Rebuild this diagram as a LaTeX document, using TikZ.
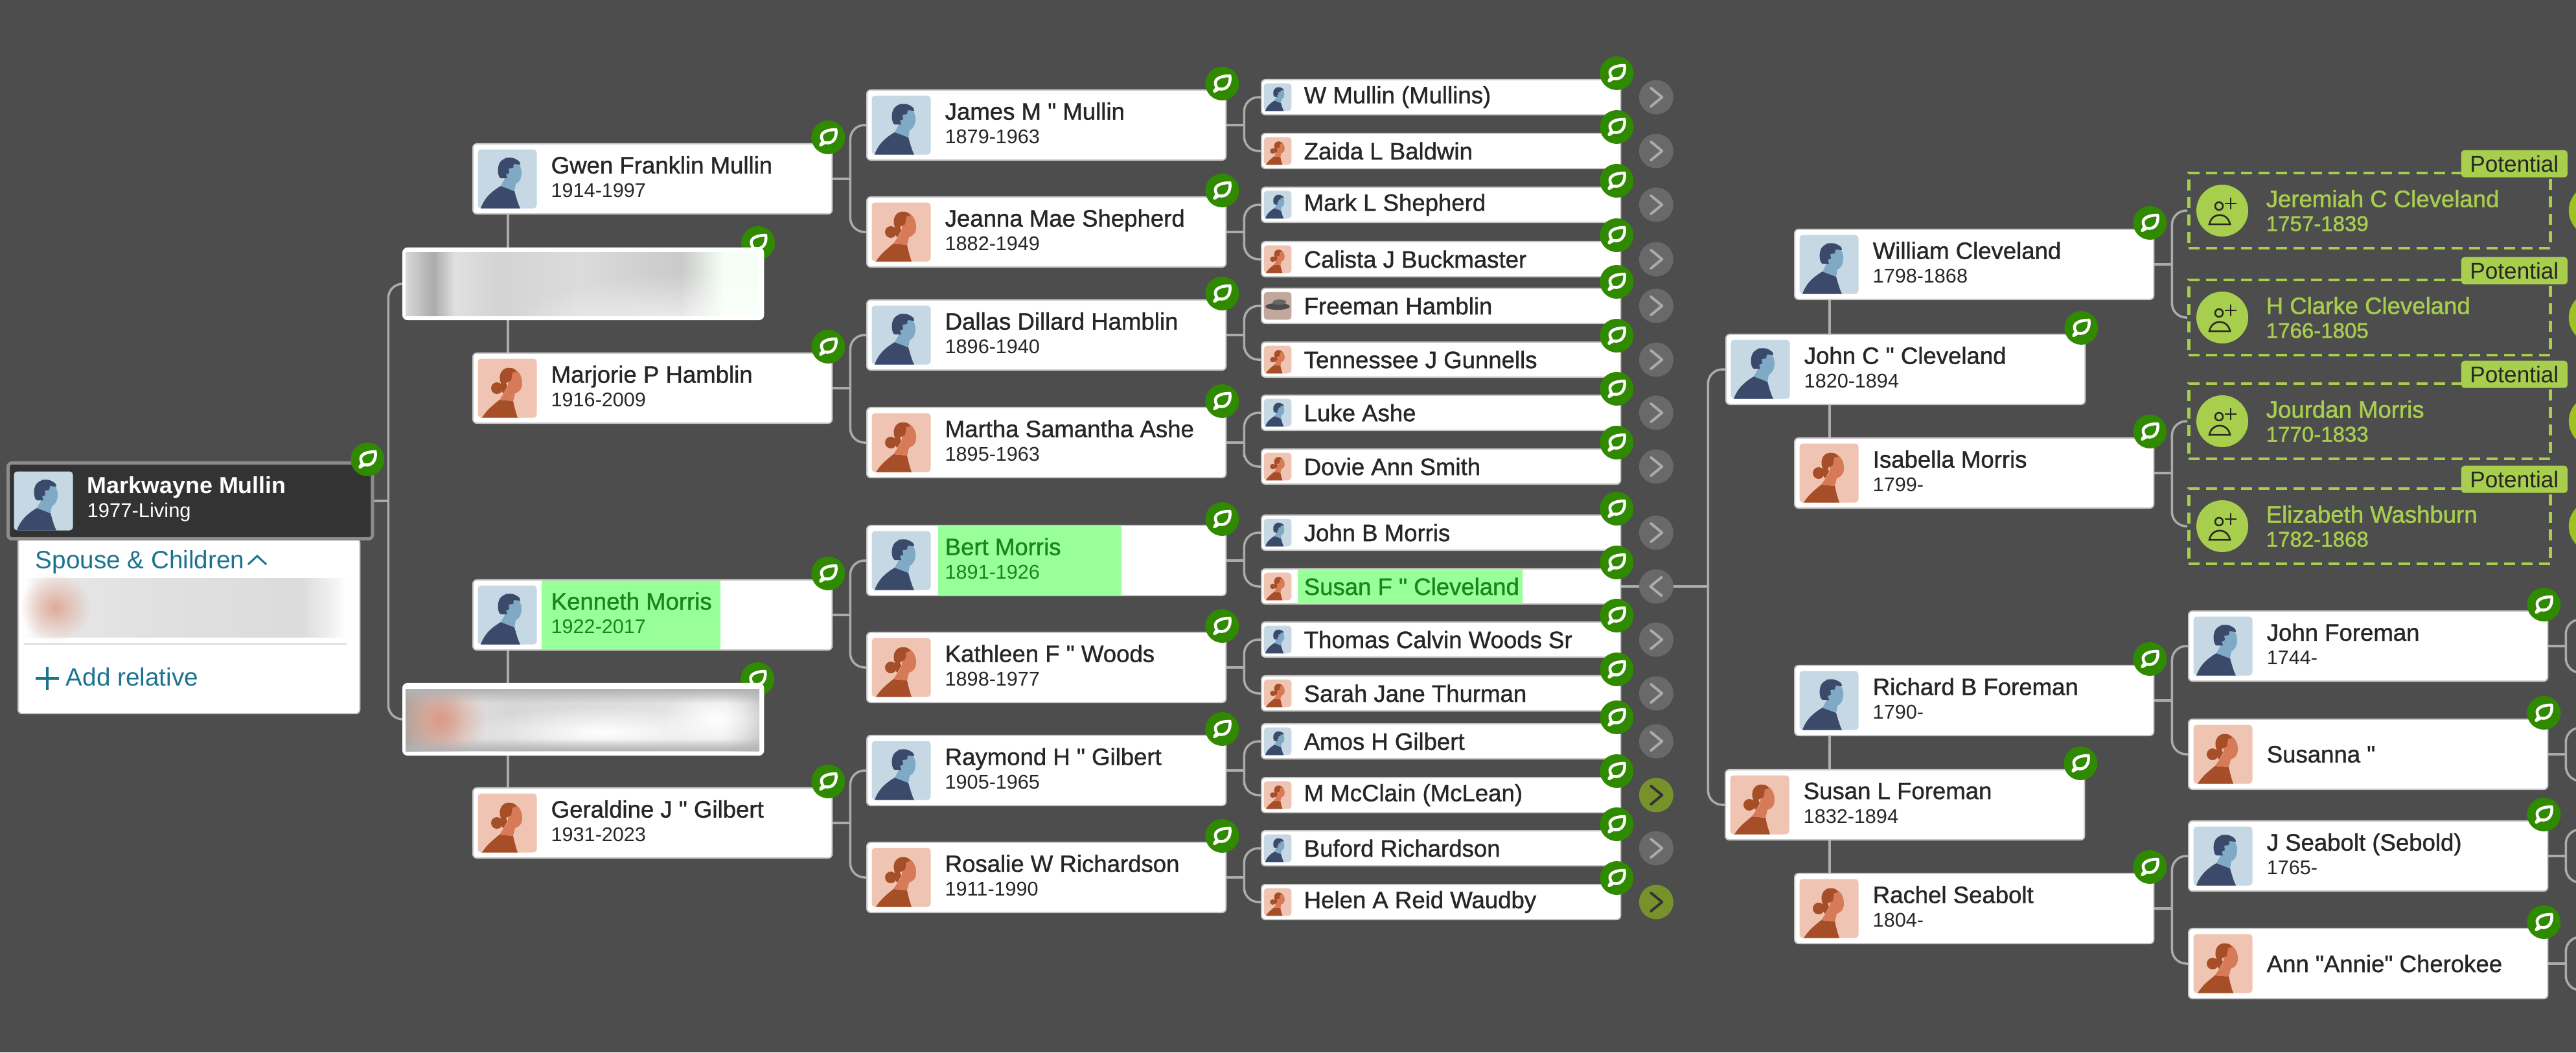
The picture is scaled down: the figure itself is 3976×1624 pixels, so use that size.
\documentclass[tikz,border=0pt]{standalone}
\usepackage{fontspec}
\setmainfont{Liberation Sans}
\newfontfamily\namefont[FakeBold=1.1]{Liberation Sans}
\newfontfamily\potfont[FakeBold=1.3]{Liberation Sans}
\newfontfamily\selffont{Liberation Sans Bold}
\usetikzlibrary{backgrounds,fadings}

\definecolor{pagebg}{HTML}{4D4D4D}
\definecolor{linkgrey}{HTML}{ABABAB}
\definecolor{leafgreen}{HTML}{2F8A00}
\definecolor{potgreen}{HTML}{A8CE4E}
\definecolor{potround}{HTML}{9FC121}
\definecolor{hilite}{HTML}{99FF99}
\definecolor{hitext}{HTML}{1A851A}
\definecolor{inktext}{HTML}{262626}
\definecolor{teal}{HTML}{1C7391}
\definecolor{btngrey}{HTML}{696969}
\definecolor{btnolive}{HTML}{78922B}
\definecolor{blurpeach}{HTML}{DC9A85}
\definecolor{manbg}{HTML}{C5D8E4}
\definecolor{manbody}{HTML}{3B4A6B}
\definecolor{manface}{HTML}{7FA9C4}
\definecolor{womanbg}{HTML}{F0C4B2}
\definecolor{womanbody}{HTML}{A54E28}
\definecolor{womanface}{HTML}{D77A58}

\pgfdeclarehorizontalshading{blurone}{100bp}{color(0bp)=(black!15); color(25bp)=(black!15); color(29bp)=(black!33); color(32bp)=(black!12); color(38bp)=(black!17); color(50bp)=(black!14); color(64bp)=(black!21); color(70bp)=(green!4!white); color(75bp)=(green!4!white); color(100bp)=(white)}
\pgfdeclarehorizontalshading{blurtwo}{100bp}{color(0bp)=(black!35); color(25bp)=(black!35); color(29bp)=(black!22); color(33bp)=(black!12); color(40bp)=(black!16); color(55bp)=(black!13); color(70bp)=(black!10); color(75bp)=(black!22); color(100bp)=(black!25)}
\pgfdeclarehorizontalshading{blurthree}{100bp}{color(0bp)=(white); color(25bp)=(white); color(27bp)=(black!5); color(33bp)=(black!10); color(45bp)=(black!12); color(68bp)=(black!14); color(73bp)=(black!5); color(75bp)=(white); color(100bp)=(white)}
\tikzfading[name=softblob, inner color=transparent!0, outer color=transparent!100]

\tikzset{
	link/.style={draw=linkgrey, line width=0.035cm},
	forked/.style={link, rounded corners=0.22cm},
	card/.style={draw=black!22, line width=0.02cm, fill=white, rounded corners=0.06cm, inner sep=0, anchor=west},
	bigcard/.style={card, minimum width=5.54cm, minimum height=1.08cm},
	smallcard/.style={card, minimum width=5.54cm, minimum height=0.54cm},
	nametext/.style={anchor=west, inner sep=0, align=left, text=inktext, font=\namefont\fontsize{10.4}{10.5}\selectfont},
	hitextnode/.style={nametext, text=hitext},
	hibox/.style={fill=hilite, inner sep=0, anchor=west},
	morebtn/.style={circle, fill=btngrey, minimum size=0.53cm, inner sep=0},
	richbtn/.style={circle, fill=btnolive, minimum size=0.53cm, inner sep=0},
	chev/.style={draw=linkgrey, line width=0.04cm, line cap=round, line join=round},
	potbox/.style={draw=potgreen, dash pattern=on 0.17cm off 0.1cm, line width=0.045cm, minimum width=5.58cm, minimum height=1.16cm, inner sep=0, anchor=west},
	pottag/.style={fill=potgreen, rounded corners=0.05cm, minimum width=1.64cm, minimum height=0.42cm, inner sep=0, text=black!85, font=\fontsize{10}{10}\selectfont},
	pottext/.style={anchor=west, inner sep=0, align=left, text=potgreen, font=\potfont\fontsize{10.4}{10.5}\selectfont},
	fuzzy/.style={path fading=softblob},
	man/.pic={
		\fill[manbg, rounded corners=0.05cm] (-45.5,-45.5) rectangle (45.5,45.5);
		\fill[manbody] (-41,45.5) .. controls (-35,28) and (-22,18) .. (-10,11) -- (11,19) .. controls (14,30) and (17,40) .. (20,45.5) -- cycle;
		\fill[manface] (-4,-33) .. controls (12,-33) and (22,-22) .. (22,-10) .. controls (22,0) and (18,6) .. (13,8) -- (11,19) -- (-10,11) -- (-4,0) -- cycle;
		\fill[manbody] (-10,-1) .. controls (-14,-2) and (-16,-14) .. (-13,-22) .. controls (-10,-32) and (5,-36) .. (14,-30) .. controls (20,-27) and (20,-24) .. (20,-22) -- (10,-23) -- (9,-17) -- (2,-16) -- (3,-9) -- (-2,-7) -- (0,-1) -- cycle;
	},
	woman/.pic={
		\fill[womanbg, rounded corners=0.05cm] (-45.5,-45.5) rectangle (45.5,45.5);
		\fill[womanbody] (-39,45.5) .. controls (-32,34) and (-22,26) .. (-12,18) -- (9,20) .. controls (11,30) and (14,40) .. (16,45.5) -- cycle;
		\fill[womanface] (5,-31) .. controls (16,-30) and (23,-20) .. (23,-8) .. controls (23,2) and (18,6) .. (12,8) -- (9,20) -- (-12,18) -- (0,0) -- cycle;
		\fill[womanbody] (-16,0) circle (9);
		\fill[womanbody] (6,-31) .. controls (-8,-34) and (-15,-20) .. (-10,-8) .. controls (-10,0) and (-8,8) .. (-6,8) -- (0,-2) -- (-2,-8) -- (6,-12) -- (8,-24) -- (14,-25) .. controls (12,-29) and (9,-31) .. (6,-31) -- cycle;
	},
	photo/.pic={
		\fill[blurpeach!70!black!60!white, rounded corners=0.05cm] (-45.5,-45.5) rectangle (45.5,45.5);
		\fill[black!70] (0,2) ellipse (40 and 11);
		\fill[black!60] (6,-12) ellipse (22 and 9);
	},
	leaf/.pic={
		\fill[leafgreen] (0,0) circle (26);
		\draw[white, line width=0.045cm, line join=round] (-12,12) -- (-8,6) .. controls (-16,-6) and (-4,-12) .. (12,-12) .. controls (14,2) and (6,11) .. (-5,8) -- cycle;
	},
	addperson/.pic={
		\draw[black!85, line width=0.025cm] (-5,-7) circle (6);
		\draw[black!85, line width=0.025cm] (-20,21) .. controls (-16,2) and (8,2) .. (12,21) -- cycle;
		\draw[black!85, line width=0.025cm] (4,-11) -- (22,-11) (13,-20) -- (13,-2);
	}
}

\begin{document}
\begin{tikzpicture}[x=0.01cm, y=-0.01cm]
	\useasboundingbox (0,0) rectangle (3976,1624);
	\clip (0,0) rectangle (3976,1624);

	% the person in the root position, and the panel under the card
	\node[card, minimum width=5.27cm, minimum height=2.7cm, anchor=north west] (panel) at (27,830) {};
	\node[inner sep=0, minimum width=4.97cm, minimum height=0.9cm, shading=blurthree] (panelblur) at (286,938) {};
	\fill[blurpeach, opacity=0.8, fuzzy] (30,885) rectangle (140,990);
	\draw[black!12, line width=0.03cm] ([shift={(0,55)}]panelblur.west) -- ([shift={(0,55)}]panelblur.east);
	\node[anchor=west, inner sep=0, text=teal, font=\fontsize{11}{11}\selectfont] (spouses) at (54,867) {Spouse \& Children};
	\draw[teal, line width=0.03cm] ([shift={(5,4)}]spouses.east) -- ++(14,-13) -- ++(14,13);
	\node[anchor=west, inner sep=0, text=teal, font=\fontsize{11}{11}\selectfont] (addrel) at (101,1045) {Add relative};
	\draw[teal, line width=0.035cm] ([shift={(-46,2)}]addrel.west) -- ([shift={(-10,2)}]addrel.west) ([shift={(-28,-16)}]addrel.west) -- ([shift={(-28,20)}]addrel.west);
	\node[card, fill=black!80, draw=black!45, line width=0.05cm, minimum width=5.62cm, minimum height=1.17cm] (mark) at (10,773) {};
	\pic at ([shift={(57,0)}]mark.west) {man};
	\node[anchor=west, inner sep=0, align=left, text=white, font=\selffont\fontsize{10.2}{10.5}\selectfont] (markt) at ([shift={(124,-3)}]mark.west) {Markwayne Mullin\\{\fontspec{Liberation Sans}\fontsize{8.8}{10.5}\selectfont 1977-Living}};
	\pic at ([shift={(-10,-3)}]mark.north east) {leaf};

	% spouse rows are blurred out
	\pic at (1170,375) {leaf};
	\node[bigcard, draw=white, line width=0.04cm] (spouseone) at (621,438) {};
	\shade[shading=blurone] (626,389) rectangle (1171,487);
	\begin{scope}
		\clip (626,389) rectangle (1171,487);
		\fill[white, fuzzy] (760,420) rectangle (1400,640);
	\end{scope}
	\pic at (1169,1048) {leaf};
	\node[bigcard, draw=white, line width=0.04cm] (spousetwo) at (621,1110) {};
	\shade[shading=blurtwo] (626,1063) rectangle (1172,1159);
	\begin{scope}
		\clip (626,1063) rectangle (1172,1159);
		\fill[blurpeach, fuzzy] (610,1040) rectangle (750,1180);
		\fill[white, fuzzy] (1020,1060) rectangle (1190,1160);
		\fill[white, fuzzy] (720,1090) rectangle (1140,1170);
	\end{scope}
	\fill[black!30, path fading=south] (626,1063) rectangle (1172,1085);
	\fill[black!30, path fading=north] (626,1140) rectangle (1172,1159);

	% cards with a name and a life span
	\foreach \id/\xx/\yy/\kind/\name/\dates in {
		gwen/729/276/man/Gwen Franklin Mullin/1914-1997,
		marjorie/729/599/woman/Marjorie P Hamblin/1916-2009,
		geraldine/729/1270/woman/Geraldine J " Gilbert/1931-2023,
		james/1337/193/man/James M " Mullin/1879-1963,
		jeanna/1337/358/woman/Jeanna Mae Shepherd/1882-1949,
		dallas/1337/517/man/Dallas Dillard Hamblin/1896-1940,
		martha/1337/683/woman/Martha Samantha Ashe/1895-1963,
		kathleen/1337/1030/woman/Kathleen F " Woods/1898-1977,
		raymond/1337/1189/man/Raymond H " Gilbert/1905-1965,
		rosalie/1337/1354/woman/Rosalie W Richardson/1911-1990,
		william/2769/408/man/William Cleveland/1798-1868,
		johnc/2663/570/man/John C " Cleveland/1820-1894,
		isabella/2769/730/woman/Isabella Morris/1799-,
		richard/2769/1081/man/Richard B Foreman/1790-,
		susanl/2662/1242/woman/Susan L Foreman/1832-1894,
		rachel/2769/1402/woman/Rachel Seabolt/1804-,
		johnf/3377/997/man/John Foreman/1744-,
		seabolt/3377/1321/man/J Seabolt (Sebold)/1765-%
	}{
		\node[bigcard] (\id) at (\xx,\yy) {};
		\pic at ([shift={(54,0)}]\id.west) {\kind};
		\node[nametext] (\id t) at ([shift={(121,-3)}]\id.west) {\name\\{\fontsize{8.7}{10.5}\fontspec{Liberation Sans}\dates}};
	}

	% the two matches are marked in green
	\node[bigcard] (kenneth) at (729,949) {};
	\pic at ([shift={(54,0)}]kenneth.west) {man};
	\node[hibox, minimum width=2.76cm, minimum height=1.06cm] (kennethh) at ([shift={(106,0)}]kenneth.west) {};
	\node[hitextnode] (kennetht) at ([shift={(121,-3)}]kenneth.west) {Kenneth Morris\\{\fontsize{8.7}{10.5}\fontspec{Liberation Sans}1922-2017}};
	\node[bigcard] (bert) at (1337,865) {};
	\pic at ([shift={(54,0)}]bert.west) {man};
	\node[hibox, minimum width=2.83cm, minimum height=1.06cm] (berth) at ([shift={(110,0)}]bert.west) {};
	\node[hitextnode] (bertt) at ([shift={(121,-3)}]bert.west) {Bert Morris\\{\fontsize{8.7}{10.5}\fontspec{Liberation Sans}1891-1926}};

	% only a name on these
	\foreach \id/\yy/\kind/\name in {susanna/1164/woman/Susanna ", ann/1487/woman/Ann "Annie" Cherokee}{
		\node[bigcard] (\id) at (3377,\yy) {};
		\pic at ([shift={(54,0)}]\id.west) {\kind};
		\node[nametext] (\id t) at ([shift={(121,0)}]\id.west) {\name};
	}

	% the narrow cards
	\foreach \id/\yy/\kind/\name in {
		wmullin/150/man/W Mullin (Mullins),
		zaida/233/woman/Zaida L Baldwin,
		markl/316/man/Mark L Shepherd,
		calista/400/woman/Calista J Buckmaster,
		freeman/472/photo/Freeman Hamblin,
		tennessee/555/woman/Tennessee J Gunnells,
		luke/637/man/Luke Ashe,
		dovie/720/woman/Dovie Ann Smith,
		johnb/822/man/John B Morris,
		thomas/987/man/Thomas Calvin Woods Sr,
		sarah/1070/woman/Sarah Jane Thurman,
		amos/1144/man/Amos H Gilbert,
		mcclain/1227/woman/M McClain (McLean),
		buford/1309/man/Buford Richardson,
		helen/1392/woman/Helen A Reid Waudby%
	}{
		\node[smallcard] (\id) at (1946,\yy) {};
		\pic[scale=0.47] at ([shift={(26,0)}]\id.west) {\kind};
		\node[nametext] (\id t) at ([shift={(66,0)}]\id.west) {\name};
	}
	\node[smallcard] (susanf) at (1946,905) {};
	\pic[scale=0.47] at ([shift={(26,0)}]susanf.west) {woman};
	\node[hibox, minimum width=3.47cm, minimum height=0.53cm] (susanfh) at ([shift={(56,0)}]susanf.west) {};
	\node[hitextnode] (susanft) at ([shift={(66,0)}]susanf.west) {Susan F " Cleveland};

	% buttons that open the next generation
	\foreach \id in {wmullin, zaida, markl, calista, freeman, tennessee, luke, dovie, johnb, thomas, sarah, amos, buford}{
		\node[morebtn] (\id c) at ([shift={(54,0)}]\id.east) {};
		\draw[chev] ([shift={(-8,-14)}]\id c.center) -- ([shift={(9,0)}]\id c.center) -- ([shift={(-8,14)}]\id c.center);
	}
	\foreach \id in {mcclain, helen}{
		\node[richbtn] (\id c) at ([shift={(54,0)}]\id.east) {};
		\draw[chev, draw=black!80] ([shift={(-8,-14)}]\id c.center) -- ([shift={(9,0)}]\id c.center) -- ([shift={(-8,14)}]\id c.center);
	}
	\node[morebtn] (susanfc) at ([shift={(54,0)}]susanf.east) {};
	\draw[chev] ([shift={(8,-14)}]susanfc.center) -- ([shift={(-9,0)}]susanfc.center) -- ([shift={(8,14)}]susanfc.center);

	% hints
	\foreach \id/\yy/\name/\dates in {
		jeremiah/325/Jeremiah C Cleveland/1757-1839,
		clarke/490/H Clarke Cleveland/1766-1805,
		jourdan/650/Jourdan Morris/1770-1833,
		elizabeth/812/Elizabeth Washburn/1782-1868%
	}{
		\node[potbox] (\id) at (3376,\yy) {};
		\node[pottag] (\id g) at ([shift={(-58,-12)}]\id.north east) {Potential};
		\node[circle, fill=potgreen, minimum size=0.8cm, inner sep=0] (\id c) at ([shift={(54,0)}]\id.west) {};
		\pic at (\id c) {addperson};
		\node[pottext] (\id t) at ([shift={(121,0)}]\id.west) {\name\\{\fontsize{9.4}{10.5}\selectfont\dates}};
		\node[circle, fill=potround, minimum size=0.8cm, inner sep=0] (\id r) at ([shift={(66,0)}]\id.east) {};
	}

	% leaves on every named card
	\foreach \id in {gwen, marjorie, kenneth, geraldine, james, jeanna, dallas, martha, bert, kathleen, raymond, rosalie, wmullin, zaida, markl, calista, freeman, tennessee, luke, dovie, johnb, susanf, thomas, sarah, amos, mcclain, buford, helen, william, johnc, isabella, richard, susanl, rachel, johnf, susanna, seabolt, ann}{
		\pic at ([shift={(-7,-9)}]\id.north east) {leaf};
	}

	% background, then the lines behind the cards
	\begin{scope}[on background layer]
		\clip (0,0) rectangle (3976,1624);
		\fill[pagebg] (0,0) rectangle (3976,1624);
		\foreach \aa/\bb/\cc in {gwen/james/jeanna, marjorie/dallas/martha, kenneth/bert/kathleen, geraldine/raymond/rosalie, james/wmullin/zaida, jeanna/markl/calista, dallas/freeman/tennessee, martha/luke/dovie, bert/johnb/susanf, kathleen/thomas/sarah, raymond/amos/mcclain, rosalie/buford/helen, richard/johnf/susanna, rachel/seabolt/ann, william/jeremiah/clarke, isabella/jourdan/elizabeth}{
			\coordinate (\aa m) at ([shift={(27,0)}]\aa.east);
			\draw[link] (\aa.east) -- (\aa m);
			\draw[forked] (\bb.west) -| (\aa m) |- (\cc.west);
		}
		\coordinate (markm) at ([shift={(22,0)}]mark.east);
		\draw[link] (mark.east) -- (markm);
		\draw[forked] (spouseone.west) -| (markm) |- (spousetwo.west);
		\coordinate (susanfm) at ([shift={(134,0)}]susanf.east);
		\draw[link] (susanf.east) -- (susanfm);
		\draw[forked] (johnc.west) -| (susanfm) |- (susanl.west);
		\draw[link] ([shift={(-223,0)}]gwen.south) -- ([shift={(-223,0)}]marjorie.north);
		\draw[link] ([shift={(-223,0)}]kenneth.south) -- ([shift={(-223,0)}]geraldine.north);
		\draw[link] ([shift={(-223,0)}]william.south) -- ([shift={(-223,0)}]isabella.north);
		\draw[link] ([shift={(-223,0)}]richard.south) -- ([shift={(-223,0)}]rachel.north);
		% forks that run off the right edge
		\foreach \id in {johnf, susanna, seabolt, ann}{
			\coordinate (\id m) at ([shift={(27,0)}]\id.east);
			\coordinate (\id a) at ([shift={(70,-41)}]\id.east);
			\coordinate (\id b) at ([shift={(70,41)}]\id.east);
			\draw[link] (\id.east) -- (\id m);
			\draw[forked] (\id a) -| (\id m) |- (\id b);
		}
	\end{scope}
\end{tikzpicture}
\end{document}
